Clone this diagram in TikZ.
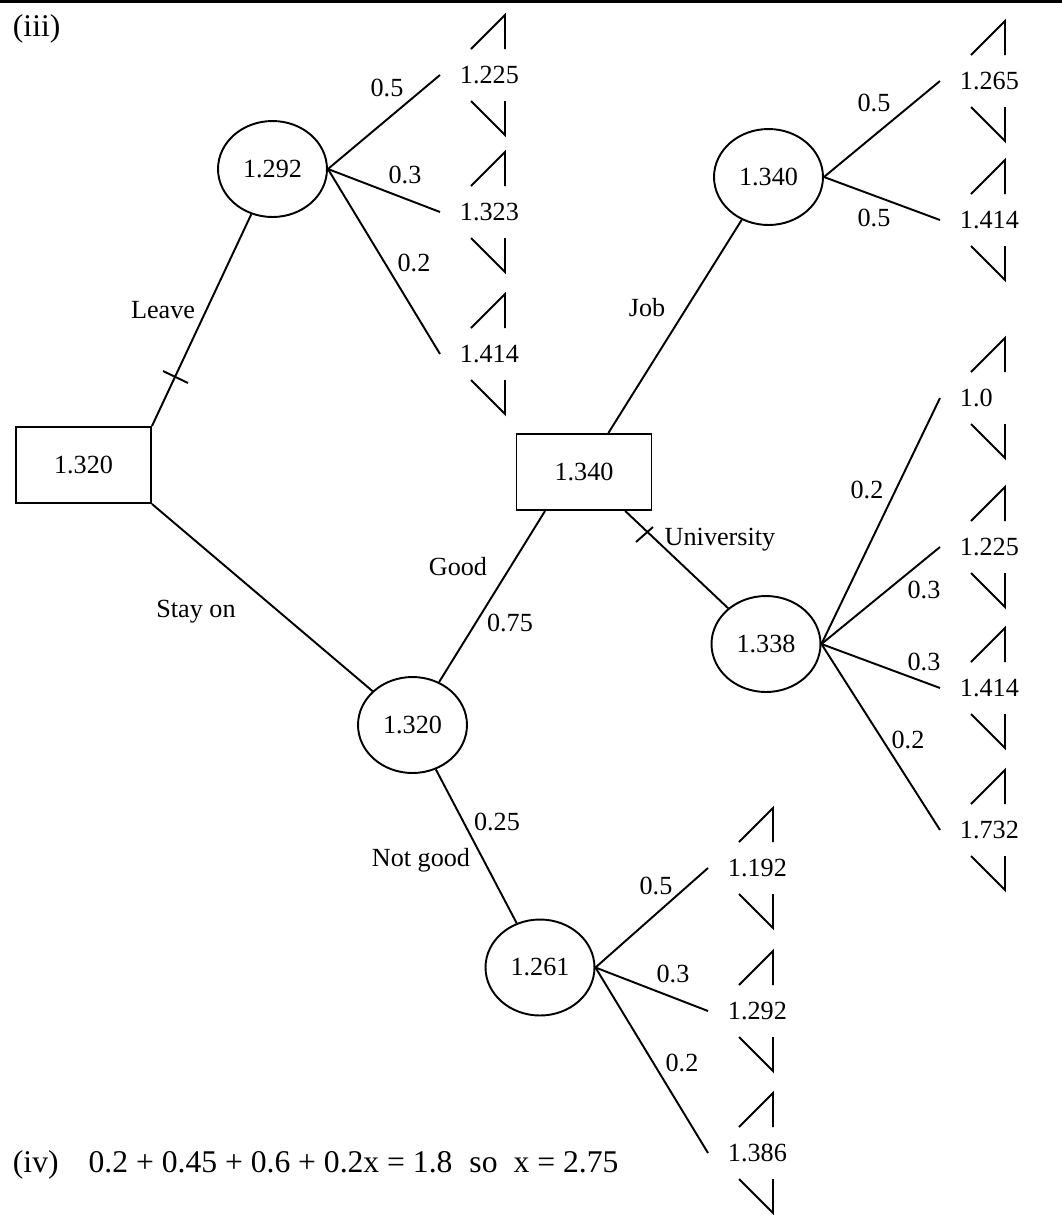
\documentclass[tikz,border=0pt]{standalone}
\usepackage{fontspec}
\setmainfont{Liberation Serif}
\usetikzlibrary{shapes.geometric}

\tikzset{
  chance/.style={draw, ellipse, minimum width=2.18cm, minimum height=1.92cm, inner sep=0pt},
  choice/.style={draw, rectangle, minimum width=2.7cm, minimum height=1.52cm, inner sep=0pt},
  payoff/.style={anchor=west, inner sep=0pt},
  lbl/.style={inner sep=0pt},
  part/.style={anchor=base west, inner sep=0pt, font=\fontsize{18}{22}\selectfont}
}

\begin{document}
\begin{tikzpicture}[x=0.02cm, y=-0.02cm, line width=1.1pt, font=\fontsize{14.9}{18}\selectfont]
  \useasboundingbox (0,0) rectangle (1062,1215);
  \draw[line width=0.06cm] (0,1) -- (1062,1);
  \node[part] (part3) at (12,36) {(iii)};

  % decision and chance nodes
  \node[choice] (D1) at (83.5,465) {1.320};
  \node[chance] (C1) at (272.5,169) {1.292};
  \node[chance] (C4) at (412.5,725) {1.320};
  \node[choice] (D2) at (584,472) {1.340};
  \node[chance] (C2) at (768.5,177) {1.340};
  \node[chance] (C3) at (766,644) {1.338};
  \node[chance] (C5) at (540,967.5) {1.261};

  % end points
  \foreach \n/\px/\py/\val in {t1/440/75/1.225, t2/440/212/1.323, t3/440/354/1.414,
      t4/940/81/1.265, t5/940/220/1.414,
      t6/940/398/1.0, t7/940/547/1.225, t8/940/688/1.414, t9/940/830/1.732,
      t10/708/868/1.192, t11/708/1011/1.292, t12/708/1153/1.386} {
    \coordinate (\n) at (\px,\py);
    \node[payoff] (\n-v) at ([xshift=0.38cm]\n) {\val};
    \draw ([shift={(31,-26)}]\n) -- ([shift={(65,-60)}]\n) -- ([shift={(65,-26)}]\n);
    \draw ([shift={(31,26)}]\n) -- ([shift={(65,60)}]\n) -- ([shift={(65,26)}]\n);
  }

  \begin{scope}[-]
    \draw (D1.north east) to (C1);
    \draw (D1.south east) to (C4);
    \draw (C4) to (D2.-135);
    \draw (C4) to (C5);
    \draw (D2) to (C2);
    \draw (D2) to (C3);
    \foreach \n in {t1,t2,t3} \draw (C1.east) to (\n);
    \foreach \n in {t4,t5} \draw (C2.east) to (\n);
    \foreach \n in {t6,t7,t8,t9} \draw (C3.east) to (\n);
    \foreach \n in {t10,t11,t12} \draw (C5.east) to (\n);
  \end{scope}

  % cut marks
  \draw (163,371) -- (188,383);
  \draw (636,542) -- (653,527);

  % labels
  \node[lbl] (l1) at (163,310) {Leave};
  \node[lbl] (l2) at (196,612) {Stay on};
  \node[lbl] (l3) at (458,567) {Good};
  \node[lbl] (l4) at (510,623) {0.75};
  \node[lbl] (l5) at (497,822) {0.25};
  \node[lbl] (l6) at (421,860) {Not good};
  \node[lbl] (l7) at (647,308) {Job};
  \node[lbl] (l8) at (720,540) {University};
  \node[lbl] (p1) at (387,88) {0.5};
  \node[lbl] (p2) at (405,175) {0.3};
  \node[lbl] (p3) at (414,263) {0.2};
  \node[lbl] (p4) at (874,103) {0.5};
  \node[lbl] (p5) at (874,218) {0.5};
  \node[lbl] (p6) at (867,490) {0.2};
  \node[lbl] (p7) at (924,590) {0.3};
  \node[lbl] (p8) at (924,662) {0.3};
  \node[lbl] (p9) at (908,740) {0.2};
  \node[lbl] (p10) at (656,886) {0.5};
  \node[lbl] (p11) at (673,974) {0.3};
  \node[lbl] (p12) at (682,1063) {0.2};

  \node[part] (part4) at (12,1172) {(iv)\hspace{0.6cm}0.2 + 0.45 + 0.6 + 0.2x = 1.8\hspace{0.34cm}so\hspace{0.32cm}x = 2.75};
\end{tikzpicture}
\end{document}
